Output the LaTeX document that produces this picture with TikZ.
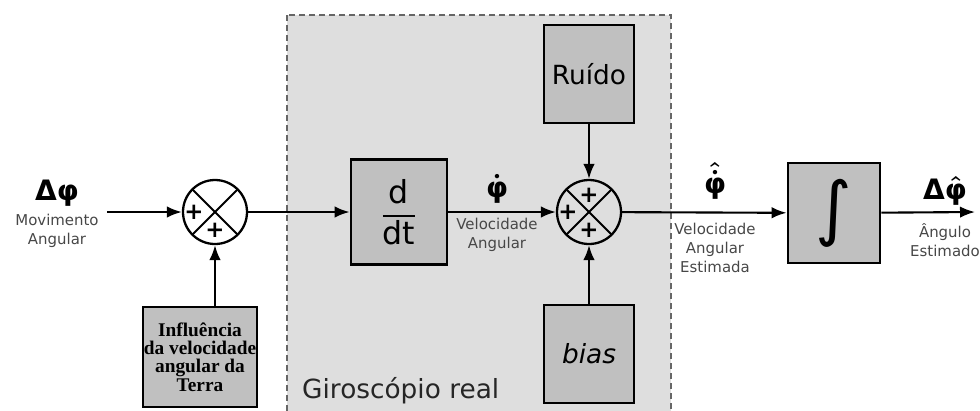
\documentclass[tikz,border=0pt]{standalone}
\usepackage{fontspec}
\usepackage{amsmath}
\setmainfont{DejaVu Sans}
\newfontfamily\terrafont{Liberation Serif}
\usetikzlibrary{arrows.meta}
\definecolor{giro}{RGB}{222,222,222}
\definecolor{caixa}{RGB}{192,192,192}
\tikzset{
  bloco/.style={draw, line width=1.6pt, fill=caixa, inner sep=0pt},
  soma/.style={draw, circle, line width=1.3pt, minimum size=12.8mm, inner sep=0pt,
    path picture={\draw[line width=1.1pt]
      (path picture bounding box.north west) -- (path picture bounding box.south east)
      (path picture bounding box.north east) -- (path picture bounding box.south west);}},
  mais/.style={font=\fontsize{13}{13}\selectfont\bfseries, inner sep=0pt},
  rotulo/.style={font=\fontsize{8.5}{11}\selectfont, align=center, text=black!72},
  sinal/.style={font=\fontsize{16}{16}\selectfont\bfseries\boldmath, inner sep=0pt},
  seta/.style={-{Latex[length=3mm,width=2.3mm]}, line width=1.2pt},
}
\begin{document}
\begin{tikzpicture}[x=0.2mm, y=-0.2mm]
  \clip (0,0) rectangle (980,410);
  % giroscopio real
  \draw[fill=giro, draw=black!60, line width=0.8pt, dash pattern=on 1.2mm off 0.8mm]
    (287,15) rectangle (671,430);
  \node[anchor=base west, font=\fontsize{15}{15}\selectfont, text=black!85] (girotxt) at (296,398) {Giroscópio real};

  \coordinate (entra) at (107,212);
  \coordinate (sai) at (975,212);
  \node[sinal] (dphi) at (57,193) {Δφ};
  \node[rotulo] (movtxt) at (57,231) {Movimento\\Angular};

  \node[soma] (sum1) at (215,212) {};
  \node[mais] (sum1l) at (194,212) {+};
  \node[mais] (sum1b) at (215,230) {+};
  \node[bloco, minimum width=22.8mm, minimum height=20mm, align=center,
        font=\terrafont\fontsize{11}{10.4}\selectfont\bfseries] (terra) at (200,357)
    {Influência\\da velocidade\\angular da\\Terra};

  \node[bloco, minimum width=19.2mm, minimum height=21mm,
        font=\fontsize{18}{18}\selectfont] (ddt) at (399,212) {$\dfrac{\text{d}}{\text{dt}}$};
  \node[sinal] (phid) at (497,189) {$\dot{\text{φ}}$};
  \node[rotulo] (veltxt) at (497,235) {Velocidade\\Angular};

  \node[soma] (sum2) at (589,212) {};
  \node[mais] (sum2l) at (568,212) {+};
  \node[mais] (sum2t) at (589,195) {+};
  \node[mais] (sum2b) at (589,230) {+};
  \node[bloco, minimum width=18mm, minimum height=19.6mm,
        font=\fontsize{15}{15}\selectfont] (ruido) at (589,74) {Ruído};
  \node[bloco, minimum width=18mm, minimum height=19.6mm,
        font=\fontsize{15}{15}\selectfont\itshape] (bias) at (589,354) {bias};

  \node[sinal] (phie) at (715,181) {$\hat{\dot{\text{φ}}}$};
  \node[rotulo] (esttxt) at (715,248) {Velocidade\\Angular\\Estimada};

  \node[bloco, minimum width=18.4mm, minimum height=20mm,
        font=\fontsize{40}{40}\selectfont] (integ) at (834,213) {∫};
  \node[sinal] (dphie) at (945,191) {Δ$\hat{\text{φ}}$};
  \node[rotulo] (angtxt) at (945,240) {Ângulo\\Estimado};

  \path[seta]
  (entra) edge (sum1)
  (sum1 |- terra.north) edge (sum1)
  (sum1) edge (ddt)
  (ddt) edge (sum2)
  (ruido) edge (sum2)
  (bias) edge (sum2)
  (sum2) edge (integ)
  (integ) edge (sai);
\end{tikzpicture}
\end{document}
